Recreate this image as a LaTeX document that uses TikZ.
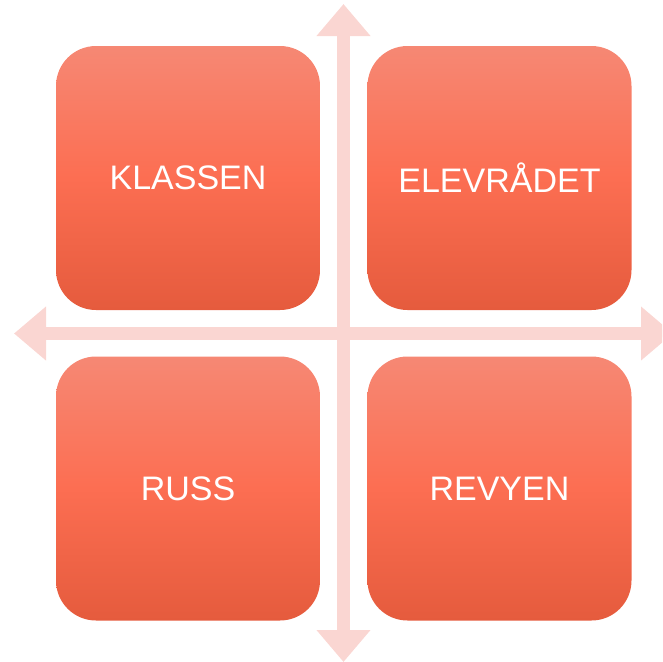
\documentclass[tikz,border=0pt]{standalone}
\usepackage{fontspec}
\setmainfont{Liberation Sans}
\usetikzlibrary{arrows.meta}
\definecolor{arrowpink}{RGB}{250,214,210}
\definecolor{boxtop}{RGB}{246,136,116}
\definecolor{boxmid}{RGB}{252,110,82}
\definecolor{boxbot}{RGB}{229,91,61}
\begin{document}
\begin{tikzpicture}[x=1pt,y=-1pt,
  quad/.style={rectangle, rounded corners=40pt, minimum width=264pt, minimum height=264pt,
    top color=boxtop, bottom color=boxbot, middle color=boxmid, draw=none,
    text=white, font=\fontsize{34}{40}\selectfont, inner sep=0pt},
  axis/.style={draw=arrowpink, line width=13.5pt,
    {Triangle[width=52pt,length=32pt]}-{Triangle[width=52pt,length=32pt]}}]
\useasboundingbox (0,0) rectangle (662,662);
\coordinate (vtop) at (343.5,4);
\coordinate (vbot) at (343.5,662);
\coordinate (hleft) at (14,333.5);
\coordinate (hright) at (673,333.5);
\begin{scope}
\clip (0,0) rectangle (662,662);
\draw[axis] (vtop) -- (vbot);
\draw[axis] (hleft) -- (hright);
\end{scope}
\node[quad] (tl) at (188,178) {KLASSEN};
\node[quad] (tr) at (499.5,178) {ELEVRÅDET};
\node[quad] (bl) at (188,488.5) {RUSS};
\node[quad] (br) at (499.5,488.5) {REVYEN};
\end{tikzpicture}
\end{document}
